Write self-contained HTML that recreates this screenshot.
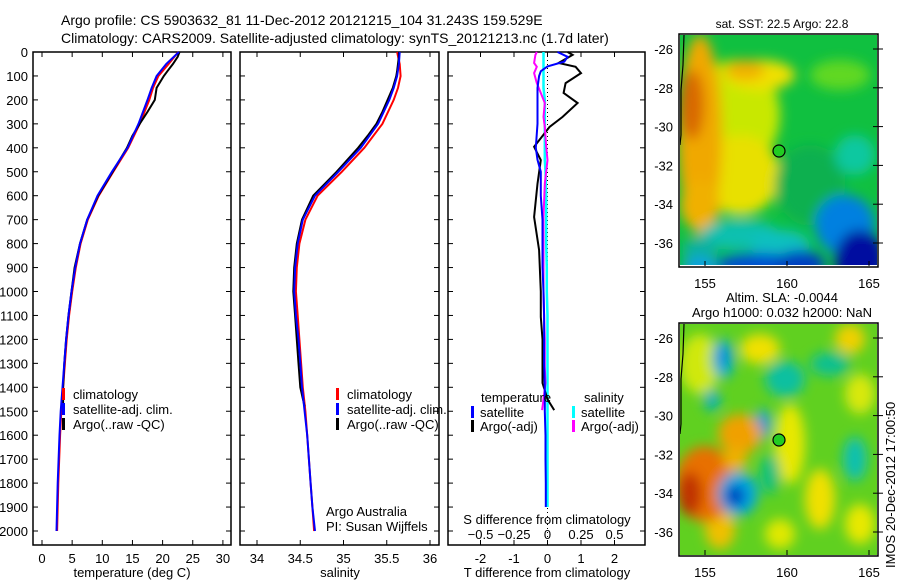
<!DOCTYPE html>
<html><head><meta charset="utf-8"><style>
body{margin:0;background:#fff}
svg{font-family:"Liberation Sans",sans-serif;font-size:13px}
</style></head><body>
<svg id="c" width="900" height="580" viewBox="0 0 900 580">
<defs>
<filter id="bl" x="-50%" y="-50%" width="200%" height="200%"><feGaussianBlur stdDeviation="6"/></filter>
<clipPath id="m1"><rect x="680" y="35" width="197" height="230"/></clipPath>
<clipPath id="m2"><rect x="680" y="324" width="197" height="231"/></clipPath>
</defs>
<g id="titles">
<text x="61" y="25" font-size="14">Argo profile: CS 5903632_81 11-Dec-2012 20121215_104 31.243S 159.529E</text>
<text x="61" y="43" font-size="14">Climatology: CARS2009. Satellite-adjusted climatology: synTS_20121213.nc (1.7d later)</text>
</g>
<g id="maps"></g>
<g id="plots"></g>
</svg>
<script>
// ---- data ----
const depths = [0,50,100,150,200,300,400,500,600,700,800,900,1000,1100,1200,1300,1400,1500,1600,1700,1800,1900,2000];
const tempClim = [22.6,21.0,19.3,18.4,17.8,16.2,14.3,11.8,9.4,7.6,6.4,5.6,5.0,4.5,4.1,3.8,3.5,3.2,3.0,2.85,2.7,2.6,2.5];
const tempSat  = [22.7,20.6,19.0,18.2,17.5,16.0,14.2,11.6,9.2,7.5,6.3,5.5,4.9,4.4,4.0,3.7,3.4,3.1,2.9,2.75,2.6,2.5,2.4];
const argoDepths = [0,20,50,80,100,150,200,250,300,350,400,500,600,700,800,900,1000,1100,1200,1300,1400,1480];
const tempArgo   = [22.8,22.5,21.7,20.8,20.2,19.0,18.7,17.5,16.2,15.0,14.1,11.7,9.3,7.5,6.3,5.4,4.9,4.4,4.0,3.7,3.5,3.5];
const salClim = [35.62,35.65,35.66,35.63,35.58,35.45,35.24,34.98,34.70,34.56,34.49,34.46,34.45,34.47,34.49,34.51,34.53,34.56,34.58,34.60,34.62,34.64,34.66];
const salSat  = [35.65,35.64,35.62,35.58,35.53,35.40,35.20,34.94,34.67,34.53,34.47,34.44,34.43,34.45,34.48,34.50,34.52,34.55,34.58,34.60,34.62,34.64,34.67];
const salArgo = [35.64,35.64,35.63,35.62,35.61,35.57,35.51,35.45,35.38,35.28,35.17,34.92,34.65,34.52,34.46,34.43,34.42,34.44,34.46,34.48,34.50,34.55];
const diffDepths = [0,20,40,60,80,100,150,200,300,400,450,500,600,700,800,900,1000,1100,1200,1300,1400,1500,1600,1700,1800,1900];
const tDiffSat  = [0.3,0.6,0.5,0.0,-0.2,-0.25,-0.3,-0.3,-0.3,-0.35,-0.3,-0.2,-0.2,-0.15,-0.15,-0.15,-0.12,-0.1,-0.1,-0.1,-0.08,-0.08,-0.06,-0.06,-0.05,-0.05];
const sDiffSat  = [-0.03,-0.03,-0.03,-0.03,-0.03,-0.03,-0.03,-0.02,-0.02,-0.02,-0.02,-0.015,-0.01,-0.01,-0.01,-0.005,-0.005,0,0,0,0,0,0,0,0,0];
const argoDiffDepths = [0,12,46,62,88,130,171,213,271,313,396,451,550,689,827,1000,1106,1200,1315,1382,1450,1495];
const tDiffArgo = [0.6,0.75,0.33,0.84,1.0,0.54,0.48,0.9,0.45,0.06,-0.4,-0.2,-0.3,-0.4,-0.25,-0.2,-0.2,-0.15,-0.15,-0.15,0.0,0.2];
const sDiffArgo = [-0.08,-0.09,-0.1,-0.08,-0.1,-0.08,-0.05,-0.02,-0.03,-0.02,-0.01,0.0,-0.02,-0.03,-0.03,-0.03,-0.025,-0.02,-0.02,-0.015,-0.03,-0.04];
const tempTicks = [0,5,10,15,20,25,30];
const salTicks = [34,34.5,35,35.5,36];
const tDiffTicks = [-2,-1,0,1,2];
const sDiffTicks = [-0.5,-0.25,0,0.25,0.5];
const depthTicks = [0,100,200,300,400,500,600,700,800,900,1000,1100,1200,1300,1400,1500,1600,1700,1800,1900,2000];
const lonTicks = [155,160,165];
const latTicks = [-26,-28,-30,-32,-34,-36];

const NS='http://www.w3.org/2000/svg';
function mk(p,t,a){const e=document.createElementNS(NS,t);for(const k in a)e.setAttribute(k,a[k]);p.appendChild(e);return e;}
const plots=document.getElementById('plots');
const TOP=52, BOT=545;
const yD=d=>52+d*0.2395;
const xT=t=>42+t*6.03;
const xS=s=>257+(s-34)*86.5;
const xTd=t=>547.5+t*33.5;
const xSd=s=>547.5+s*134;

function frame(x0,x1,name){
  const r=mk(plots,'rect',{x:x0,y:TOP,width:x1-x0,height:BOT-TOP,fill:'none',stroke:'#000','stroke-width':1.5});
  
  
}
function line(xs,ds,fx,color,w,name){
  const pts=xs.map((v,i)=>fx(v).toFixed(1)+','+yD(ds[i]).toFixed(1)).join(' ');
  const p=mk(plots,'polyline',{points:pts,fill:'none',stroke:color,'stroke-width':w});
  
  
}
function xticks(vals,fx,y,labels,name){
  vals.forEach((v,i)=>{
    const x=fx(v);
    mk(plots,'line',{x1:x,x2:x,y1:BOT,y2:BOT-5,stroke:'#000'});
    mk(plots,'line',{x1:x,x2:x,y1:TOP,y2:TOP+5,stroke:'#000'});
    const t=mk(plots,'text',{x:x,y:y,'text-anchor':'middle'});t.textContent=labels[i];
    
    
  });
}
function label(x,y,txt,name,anchor){
  const t=mk(plots,'text',{x:x,y:y,'text-anchor':anchor||'start'});t.textContent=txt;
  
  
  return t;
}
depthTicks.forEach(d=>{
  const y=yD(d);
  [[33,231],[240,439],[448,645]].forEach(([a,b])=>{
    mk(plots,'line',{x1:a,x2:a+5,y1:y,y2:y,stroke:'#000'});
    mk(plots,'line',{x1:b,x2:b-5,y1:y,y2:y,stroke:'#000'});
  });
  label(28,y+5,String(d),'depth-tick-label','end');
});
// panel 1
frame(33,231,'temperature-panel');
xticks(tempTicks,xT,563,tempTicks.map(String),'temperature-tick-label');
label(132,577,'temperature (deg C)','temperature-axis-title','middle');
line(tempClim,depths,xT,'#f00',2,'temperature-climatology-line');
line(tempArgo,argoDepths,xT,'#000',2,'temperature-argo-line');
line(tempSat,depths,xT,'#00f',2,'temperature-satellite-line');
// panel 2
frame(240,439,'salinity-panel');
xticks(salTicks,xS,563,salTicks.map(String),'salinity-tick-label');
label(340,577,'salinity','salinity-axis-title','middle');
line(salClim,depths,xS,'#f00',2,'salinity-climatology-line');
line(salArgo,argoDepths,xS,'#000',2,'salinity-argo-line');
line(salSat,depths,xS,'#00f',2,'salinity-satellite-line');
label(326,516,'Argo Australia','credit-text');
label(326,531,'PI: Susan Wijffels','pi-text');
[[62,'legend-temperature'],[336,'legend-salinity']].forEach(([x,n])=>{
  [['#f00','climatology'],['#00f','satellite-adj. clim.'],['#000','Argo(..raw -QC)']].forEach(([c,t],i)=>{
    const y=398+i*15;
    const r=mk(plots,'rect',{x:x,y:y-10,width:3,height:12,fill:c});
    
    
    label(x+11,y+1,t,n+'-entry');
  });
});
// panel 3
frame(448,645,'difference-panel');
mk(plots,'line',{x1:547.5,x2:547.5,y1:TOP,y2:BOT,stroke:'#000','stroke-dasharray':'1,3'});
xticks(tDiffTicks,xTd,563,tDiffTicks.map(String),'t-diff-tick-label');
sDiffTicks.forEach(v=>{const x=xSd(v);mk(plots,'line',{x1:x,x2:x,y1:BOT,y2:BOT-5,stroke:'#000'});});
sDiffTicks.forEach(v=>{label(xSd(v),539,v===0?'0':String(v).replace('-','−'),'s-diff-tick-label','middle');});
label(547,524,'S difference from climatology','s-diff-axis-title','middle');
label(547,577,'T difference from climatology','t-diff-axis-title','middle');
line(sDiffSat,diffDepths,xSd,'#0ff',2.5,'s-diff-satellite-line');
line(tDiffArgo,argoDiffDepths,xTd,'#000',2,'t-diff-argo-line');
line(sDiffArgo,argoDiffDepths,xSd,'#f0f',2,'s-diff-argo-line');
line(tDiffSat,diffDepths,xTd,'#00f',2,'t-diff-satellite-line');
label(481,402,'temperature','diff-legend-temperature-heading');
label(584,402,'salinity','diff-legend-salinity-heading');
[[471,'#00f','satellite'],[471,'#000','Argo(-adj)'],[572,'#0ff','satellite'],[572,'#f0f','Argo(-adj)']].forEach(([x,c,t],i)=>{
  const y=416+(i%2)*14;
  const r=mk(plots,'rect',{x:x,y:y-10,width:3,height:12,fill:c});
  
  
  label(x+9,y+1,t,'diff-legend-entry');
});

// ---- maps ----
const maps=document.getElementById('maps');
function map(y0,clip,base,blobs,title,name){
  const g=mk(maps,'g',{});
  
  
  const gi=mk(g,'g',{'clip-path':'url(#'+clip+')'});
  mk(gi,'rect',{x:680,y:y0,width:197,height:232,fill:base});
  const gb=mk(gi,'g',{filter:'url(#bl)'});
  blobs.forEach(b=>mk(gb,'ellipse',{cx:b[0],cy:b[1]+y0,rx:b[2],ry:b[3],fill:b[4]}));
  mk(gi,'polyline',{points:`684,${y0} 683,${y0+30} 681,${y0+55} 681,${y0+100} 680,${y0+110}`,fill:'none',stroke:'#000','stroke-width':1.2});
  mk(g,'circle',{cx:779,cy:y0+116,r:6,fill:'#2c2',stroke:'#000','stroke-width':1.2});
  mk(g,'rect',{x:679,y:y0-1,width:199,height:233,fill:'none',stroke:'#000','stroke-width':1.5});
  lonTicks.forEach(v=>{const x=705+(v-155)*16.4;
    mk(g,'line',{x1:x,x2:x,y1:y0+231,y2:y0+226,stroke:'#000'});
    const t=mk(g,'text',{x:x,y:y0+253,'text-anchor':'middle'});t.textContent=v;
    
    });
  latTicks.forEach(v=>{const y=y0+14+(-26-v)*19.4;
    mk(g,'line',{x1:873,x2:883,y1:y,y2:y,stroke:'#000'});
    const t=mk(g,'text',{x:673,y:y+5,'text-anchor':'end'});t.textContent=v;
    
    });
  title.forEach((s,i)=>{const t=mk(g,'text',{x:782,y:y0-(title.length-1-i)*15-7,'text-anchor':'middle','font-size':title.length===1?12:13});t.textContent=s;
    
    });
}
map(35,'m1','#10c040',[
  [735,80,45,55,'#c8e800'],[760,40,35,15,'#f0e000'],[740,140,40,40,'#e8e000'],
  [700,100,22,100,'#f0a800'],[692,70,12,35,'#d86800'],[700,170,20,25,'#f0b000'],[745,35,20,10,'#f0b000'],
  [810,150,35,40,'#10b050'],[840,40,30,15,'#60d820'],[855,120,20,20,'#10c8a0'],
  [740,200,40,15,'#10c0b0'],[780,210,30,15,'#10c0c0'],[700,215,18,12,'#10b0a0'],
  [845,190,30,30,'#0080e0'],[860,225,25,30,'#0010a0'],[760,230,45,12,'#0050d0'],[800,230,25,15,'#0040c0'],[700,232,18,10,'#10a0e0']
],['sat. SST: 22.5 Argo: 22.8'],'sst-map');
map(324,'m2','#60d020',[
  [700,40,20,30,'#d0e810'],[760,25,20,15,'#f0e000'],[850,15,15,15,'#f0d000'],[860,70,15,20,'#d8e810'],
  [790,120,15,40,'#e8e800'],[820,175,15,30,'#f0e000'],[720,205,15,20,'#f0c000'],[780,210,15,15,'#e0e800'],[860,200,15,20,'#e8e800'],
  [723,35,11,20,'#00b0d0'],[723,32,5,9,'#0080e0'],[712,76,8,11,'#00b0c0'],[763,100,8,15,'#00a8e0'],[763,100,4,8,'#0080e0'],
  [785,55,20,18,'#10c0a0'],[830,40,20,12,'#10c090'],[855,135,12,22,'#10c0b0'],
  [705,160,30,38,'#e87000'],[690,170,12,22,'#c03000'],[740,110,22,20,'#f0a000'],[735,135,12,12,'#f0b000'],
  [738,170,20,22,'#00a8e0'],[735,172,10,11,'#0040c0'],[770,150,10,20,'#10c080']
],['Altim. SLA: -0.0044','Argo h1000: 0.032 h2000: NaN'],'sla-map');
const ts=mk(maps,'text',{x:895,y:568,transform:'rotate(-90 895 568)','font-size':13});
ts.textContent='IMOS 20-Dec-2012 17:00:50';


</script>
</body></html>
